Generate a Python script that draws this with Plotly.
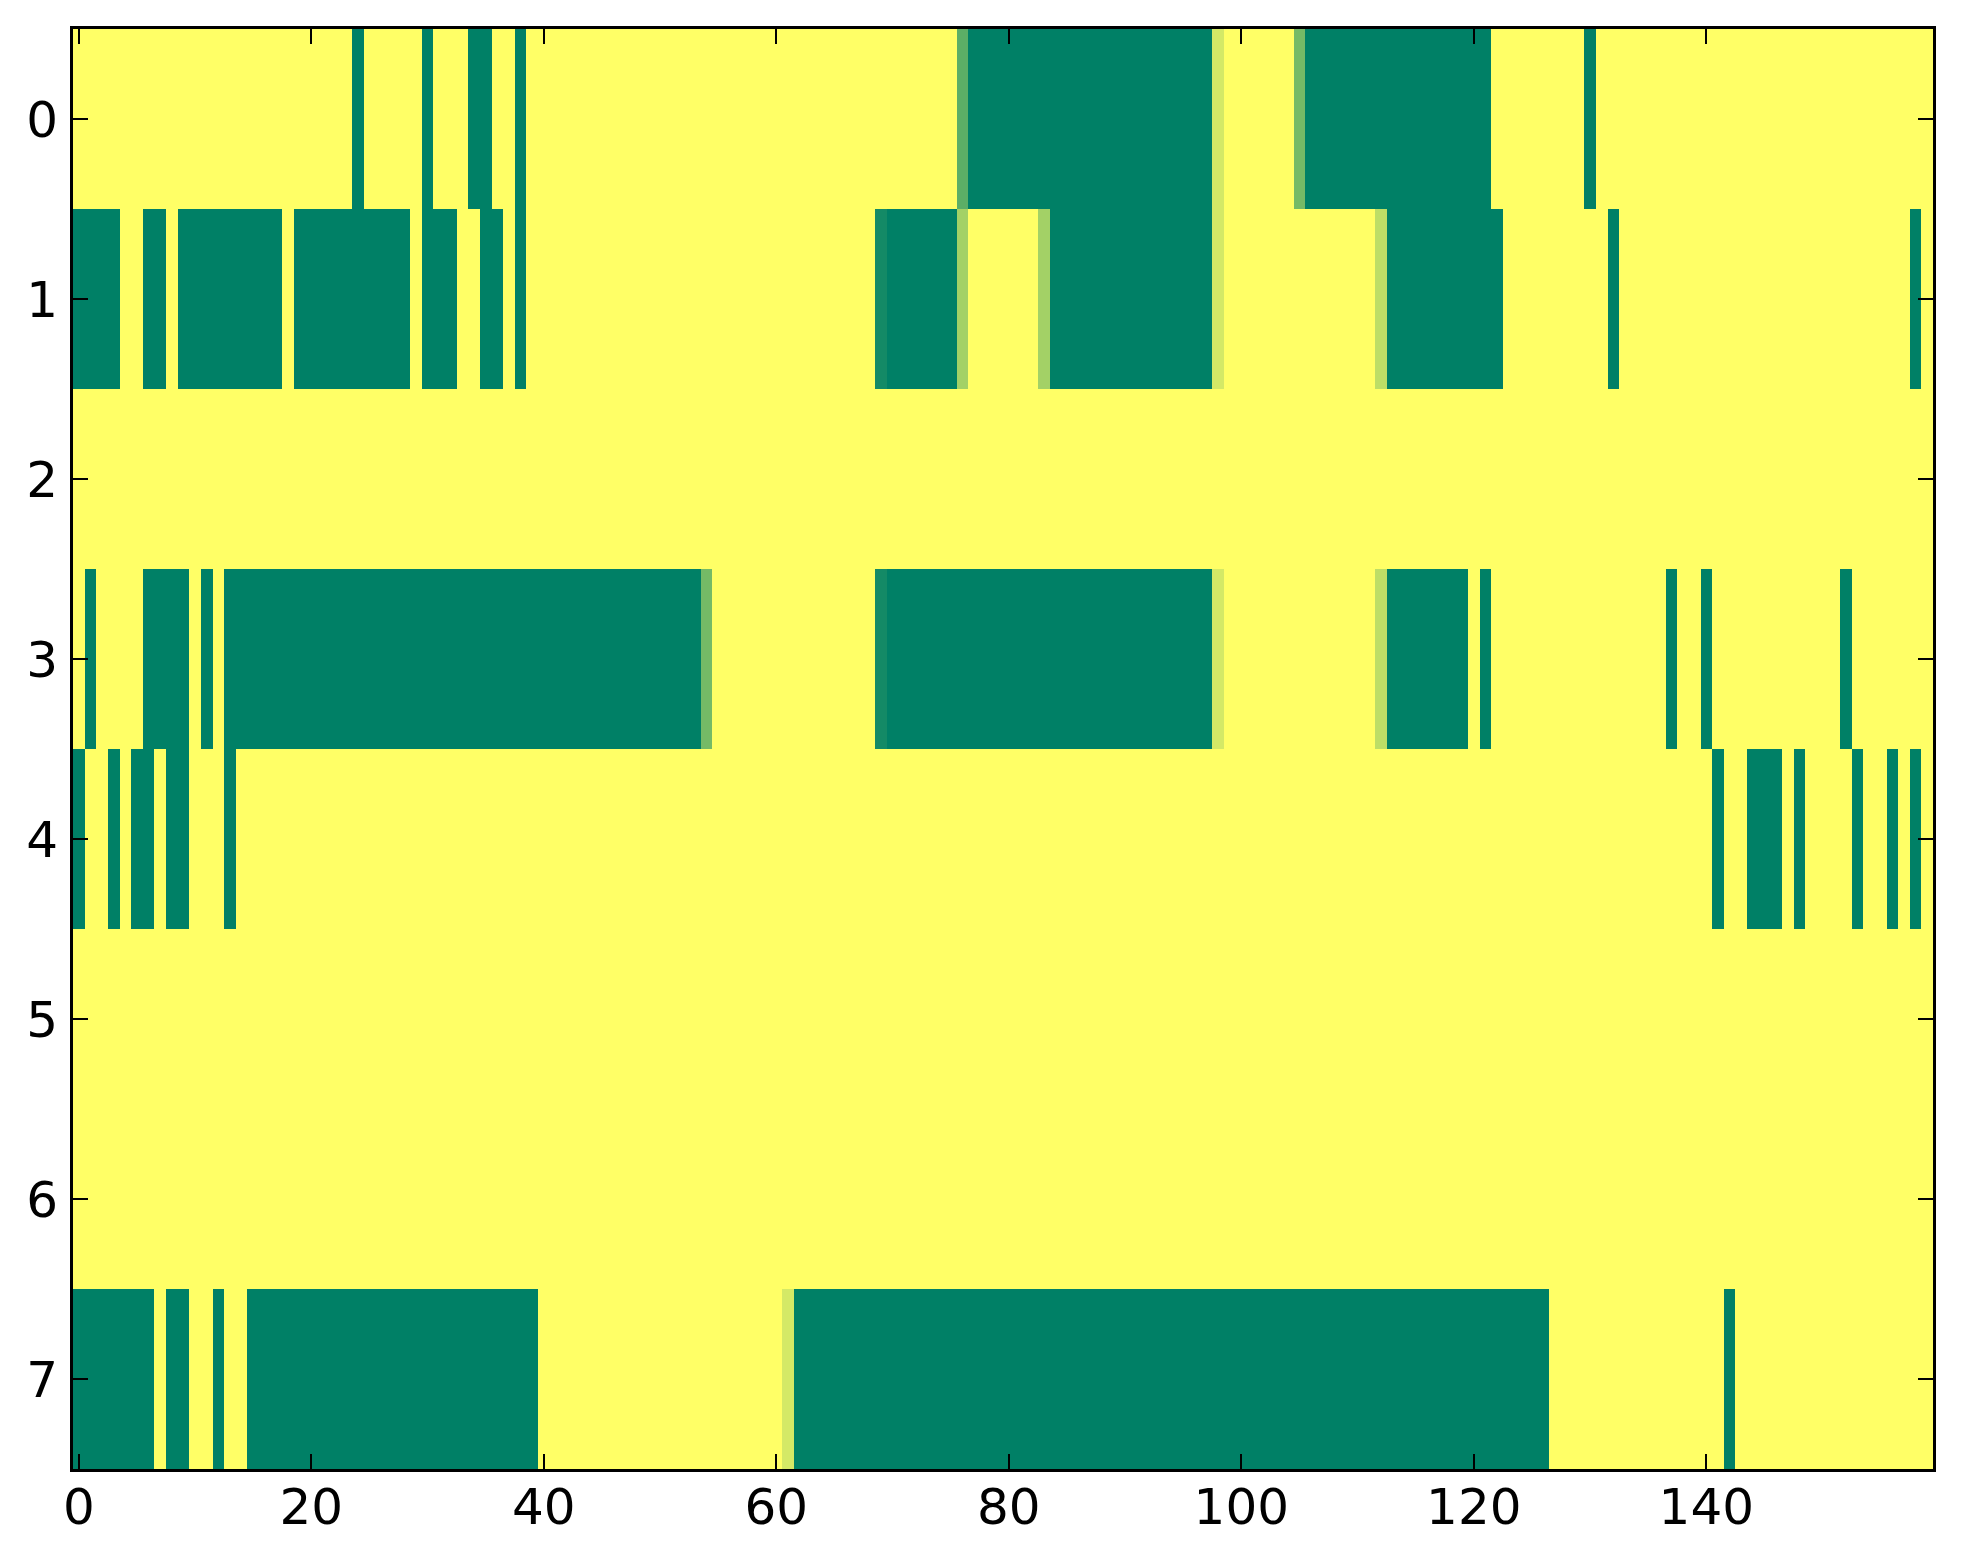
import plotly.graph_objects as go

# values, one list per row (160 columns)
row0 = [1] * 24 + [0] + [1] * 5 + [0] + [1] * 3 + [0, 0] + [1, 1] + [0] + [1] * 37 \
    + [0.36] + [0] * 21 + [0.83] + [1] * 6 + [0.46] + [0] * 16 + [1] * 8 + [0] + [1] * 29
row1 = [0] * 4 + [1, 1] + [0, 0] + [1] + [0] * 9 + [1] + [0] * 10 + [1] + [0] * 3 + [1, 1] \
    + [0, 0] + [1] + [0] + [1] * 30 + [0.08] + [0] * 6 + [0.64] + [1] * 6 + [0.64] + [0] * 14 \
    + [0.83] + [1] * 13 + [0.74] + [0] * 10 + [1] * 9 + [0] + [1] * 25 + [0] + [1]
row2 = [1] * 160
row3 = [1] + [0] + [1] * 4 + [0] * 4 + [1] + [0] + [1] + [0] * 41 + [0.46] + [1] * 14 \
    + [0.08] + [0] * 28 + [0.83] + [1] * 13 + [0.74] + [0] * 7 + [1] + [0] + [1] * 15 + [0] \
    + [1, 1] + [0] + [1] * 11 + [0] + [1] * 7
row4 = [0] + [1, 1] + [0] + [1] + [0, 0] + [1] + [0, 0] + [1] * 3 + [0] + [1] * 127 + [0] \
    + [1, 1] + [0] * 3 + [1] + [0] + [1] * 4 + [0] + [1, 1] + [0] + [1] + [0] + [1]
row5 = [1] * 160
row6 = [1] * 160
row7 = [0] * 7 + [1] + [0, 0] + [1, 1] + [0] + [1, 1] + [0] * 25 + [1] * 21 + [0.83] \
    + [0] * 65 + [1] * 15 + [0] + [1] * 17

rows = [row0, row1, row2, row3, row4, row5, row6, row7]
row_labels = list(range(8))
x_ticks = [0, 20, 40, 60, 80, 100, 120, 140]

# matplotlib "summer": green -> yellow, linear in each channel
summer = [[0.0, "rgb(0,128,102)"], [1.0, "rgb(255,255,102)"]]

fig = go.Figure()
fig.add_trace(go.Heatmap(z=rows, x=list(range(len(row0))), y=row_labels,
                         colorscale=summer, zmin=0, zmax=1, showscale=False,
                         hoverinfo="skip"))

axis_style = dict(showline=True, linecolor="black", linewidth=3, mirror="ticks",
                  ticks="inside", ticklen=15, tickwidth=2, tickcolor="black",
                  showgrid=False, zeroline=False,
                  tickfont=dict(family="DejaVu Sans", size=50, color="black"))

fig.update_xaxes(range=[-0.5, 159.5], tickvals=x_ticks, ticklabelstandoff=-8, **axis_style)
fig.update_yaxes(range=[7.5, -0.5], tickvals=row_labels, ticklabelstandoff=2, **axis_style)

# page body keeps its default 8px margin, so the figure is a bit smaller than the window
fig.update_layout(width=1947, height=1548, margin=dict(l=65, r=22, t=21, b=87),
                  paper_bgcolor="white", plot_bgcolor="white")

fig.write_html("out.html")
